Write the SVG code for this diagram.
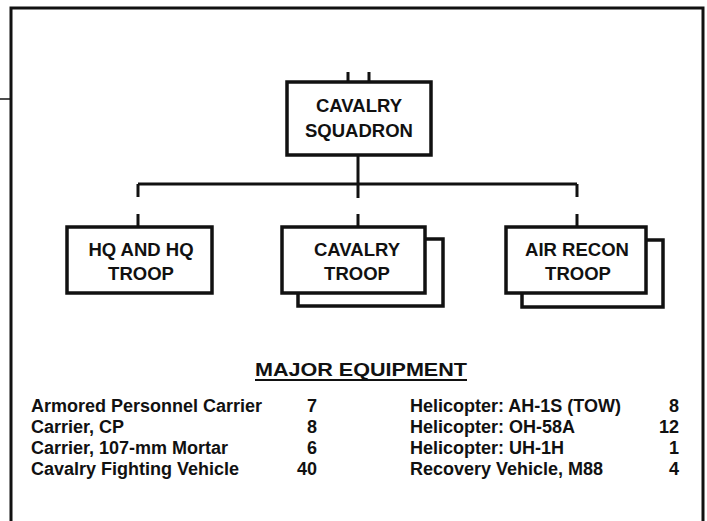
<svg xmlns="http://www.w3.org/2000/svg" width="707" height="521" viewBox="0 0 707 521">
<style>
.box{fill:#fff;stroke:#111;stroke-width:3.5}
.ln{fill:none;stroke:#111;stroke-width:3}
.lbl{font-family:"Liberation Sans",Arial,sans-serif;font-weight:bold;font-size:18.5px;fill:#111;text-anchor:middle}
.t{font-family:"Liberation Sans",Arial,sans-serif;font-weight:bold;font-size:18px;fill:#111}
.n{text-anchor:end}
</style>
<rect width="707" height="521" fill="#fff"/>
<g id="frame">
<path class="ln" d="M11,521 V8 H703 V521"/>
<path d="M0,99 H11" stroke="#111" stroke-width="1.5"/>
</g>
<g id="connectors">
<path class="ln" d="M348,72 V82 M369,72 V82"/>
<path class="ln" d="M358,155 V198"/>
<path class="ln" d="M138,184 H577"/>
<path class="ln" d="M138,184 V197 M138,214 V227"/>
<path class="ln" d="M358,214 V227"/>
<path class="ln" d="M577,184 V197 M577,214 V227"/>
</g>
<g id="squadron">
<rect class="box" x="287" y="82" width="144" height="73"/>
<text class="lbl" x="359" y="112">CAVALRY</text>
<text class="lbl" x="359" y="137">SQUADRON</text>
</g>
<g id="hq">
<rect class="box" x="67" y="227" width="145" height="66"/>
<text class="lbl" x="141" y="256">HQ AND HQ</text>
<text class="lbl" x="141" y="280">TROOP</text>
</g>
<g id="cavtroop">
<rect class="box" x="298" y="239" width="145" height="67"/>
<rect class="box" x="282" y="227" width="143" height="66"/>
<text class="lbl" x="357" y="256">CAVALRY</text>
<text class="lbl" x="357" y="280">TROOP</text>
</g>
<g id="airtroop">
<rect class="box" x="522" y="240" width="141" height="67"/>
<rect class="box" x="506" y="227" width="140" height="66"/>
<text class="lbl" x="577" y="256">AIR RECON</text>
<text class="lbl" x="578" y="280">TROOP</text>
</g>
<g id="equipment">
<text class="t" x="361" y="376" text-anchor="middle" textLength="212" lengthAdjust="spacingAndGlyphs" style="font-size:19px">MAJOR EQUIPMENT</text>
<path d="M255,380 H467" stroke="#111" stroke-width="2"/>
<text class="t" x="31" y="412">Armored Personnel Carrier</text>
<text class="t" x="31" y="433">Carrier, CP</text>
<text class="t" x="31" y="454">Carrier, 107-mm Mortar</text>
<text class="t" x="31" y="475">Cavalry Fighting Vehicle</text>
<text class="t n" x="317" y="412">7</text>
<text class="t n" x="317" y="433">8</text>
<text class="t n" x="317" y="454">6</text>
<text class="t n" x="317" y="475">40</text>
<text class="t" x="410" y="412">Helicopter: AH-1S (TOW)</text>
<text class="t" x="410" y="433">Helicopter: OH-58A</text>
<text class="t" x="410" y="454">Helicopter: UH-1H</text>
<text class="t" x="410" y="475">Recovery Vehicle, M88</text>
<text class="t n" x="679" y="412">8</text>
<text class="t n" x="679" y="433">12</text>
<text class="t n" x="679" y="454">1</text>
<text class="t n" x="679" y="475">4</text>
</g>
</svg>
